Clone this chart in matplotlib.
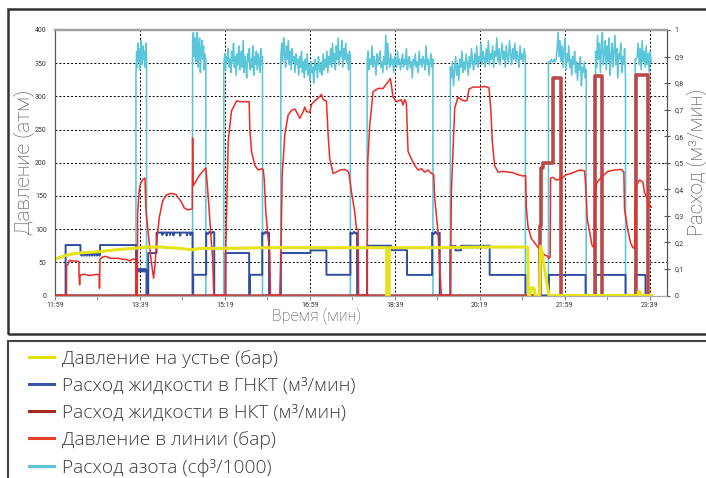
import numpy as np
import matplotlib.pyplot as plt
from matplotlib.lines import Line2D
from matplotlib.patches import Rectangle

plt.rcParams['font.family'] = ['Roboto', 'DejaVu Sans']

# time axis: minutes after 11:59
tick_minutes = [0, 100, 200, 300, 400, 500, 600, 700]
tick_labels = ["11:59", "13:39", "15:19", "16:59", "18:39", "20:19", "21:59", "23:39"]
flow_ticks = [0, 0.1, 0.2, 0.3, 0.4, 0.5, 0.6, 0.7, 0.8, 0.9, 1.0]
flow_labels = ["0", "0,1", "0,2", "0,3", "0,4", "0,5", "0,6", "0,7", "0,8", "0,9", "1"]

# wellhead pressure (bar), (minute, value)
wellhead = [(0, 55), (14, 61), (28, 64), (52, 66), (72, 69), (92, 71), (108, 73), (124, 73),
            (147, 71), (161, 69), (171, 71), (200, 71), (250, 72), (300, 72), (350, 72),
            (390.5, 72), (390.5, 0), (393.5, 0), (393.5, 72), (450, 72), (500, 73), (556.5, 73),
            (557.5, 0), (559, 0), (560, 10), (562, 12), (563, 8), (564, 11), (565.5, 0),
            (570.5, 0), (571.5, 74), (572.5, 72), (581.5, 0), (686, 0), (687, 6), (689, 5),
            (690, 0), (702, 0)]

# line pressure (bar)
line_pressure = [
    (0, 0), (13.5, 0), (13.7, 45), (15.5, 47), (17, 53), (20, 52), (26, 52), (28.2, 51),
    (28.3, 31), (29, 16), (29.6, 31), (35, 32), (40, 30), (45, 31), (50, 32), (52, 31),
    (52.4, 11), (53, 55), (56, 58), (60, 59), (65, 56), (75, 56), (80, 54.5), (85, 54),
    (88, 52), (90, 54), (93, 55), (95, 54), (95.3, 0), (96.8, 0),
    (97.3, 124), (99.2, 159), (101, 170), (103.1, 174), (105.9, 177), (107.1, 129), (109, 104),
    (111.8, 69), (114.1, 44), (116.1, 26), (117.6, 44), (119.6, 79), (122.7, 117), (126.7, 142),
    (130.7, 151), (136.5, 154), (142.4, 152), (148.3, 142), (152.2, 132), (156.1, 129),
    (160.1, 130), (161.6, 131), (162, 237), (162.6, 165), (166.7, 174), (170.6, 182),
    (175.3, 189), (177.6, 192), (179.2, 169), (181.5, 129), (183.9, 84), (185.5, 59), (187, 0),
    (200.5, 0), (201, 60), (202.4, 150), (203.9, 232), (207.8, 278), (213.7, 293), (219.6, 292),
    (228.6, 292), (229.4, 252), (231.4, 217), (235.3, 196), (239.2, 189), (243.1, 191),
    (245.1, 190), (246.3, 176), (248.2, 126), (251, 86), (252.9, 65), (253.7, 0),
    (264.7, 0), (265.9, 56), (267.5, 181), (270.6, 242), (274.5, 272), (278.4, 279),
    (282.4, 281), (286.3, 272), (288.2, 267), (292.2, 277), (294.1, 284), (296.1, 277),
    (300, 276), (302, 288), (305.9, 293), (311.8, 300), (313.7, 303), (315.7, 295),
    (319.6, 293), (321.6, 242), (323.5, 206), (327.5, 184), (331.4, 186), (335.3, 189),
    (341.2, 190), (345.9, 186), (349, 157), (352.9, 126), (354.9, 101), (356.9, 99), (357.5, 0),
    (367.5, 0), (368.2, 200), (370.6, 257), (374.5, 307), (380.4, 312), (386.3, 312),
    (392.2, 322), (394.9, 327), (398, 299), (402, 292), (407.8, 295), (409.8, 287),
    (411.8, 295), (413.7, 290), (415.7, 217), (419.6, 206), (423.5, 196), (427.5, 189),
    (431.4, 191), (435.3, 186), (439.2, 189), (443.1, 184), (445.9, 182), (447.1, 146),
    (449, 121), (451, 96), (452.9, 45), (454.9, 0),
    (465.5, 0), (466.7, 156), (470.6, 282), (474.5, 299), (476.5, 297), (478.4, 295),
    (482.4, 293), (485.1, 294), (487.5, 311), (492.2, 314), (500, 314), (505.9, 315),
    (511, 313), (513, 282), (514.9, 232), (517.6, 196), (521.6, 186), (527.5, 187),
    (533.3, 186), (539.2, 185), (545.1, 182), (551, 180), (554.1, 181), (554.9, 134),
    (556.9, 104), (560.8, 86), (566.7, 76), (572.5, 66), (576.5, 61), (580.4, 59),
    (581.6, 56), (583, 58),
    (583.5, 177), (586.3, 178), (590.2, 174), (596.1, 176), (602, 182), (607.8, 184),
    (611.8, 186), (617.6, 189), (623.5, 188), (624.3, 175), (625.5, 150), (626.7, 116),
    (629.4, 96), (632.2, 76), (634.5, 72), (635.3, 100), (636.5, 160), (638, 170),
    (643.1, 178), (651, 187), (658.8, 189), (666.7, 190), (669.8, 186), (670.6, 130),
    (674.5, 98), (677.6, 80), (680.4, 72), (682.4, 71), (683.1, 120), (684, 165),
    (688.2, 174), (692.2, 171), (694.1, 155), (697.3, 146), (700, 134), (702, 133)]

# coiled tubing fluid rate (m3/min)
gnkt_rate = [
    (0, 0), (12.5, 0), (12.5, 0.19), (30, 0.19), (30, 0.155), (31.5, 0.15), (33, 0.16),
    (34.5, 0.15), (36, 0.16), (37.5, 0.15), (39, 0.16), (40.5, 0.15), (42, 0.16), (43.5, 0.15),
    (45, 0.16), (46.5, 0.15), (48, 0.16), (49.5, 0.15), (51, 0.16), (52.5, 0.15), (53, 0.155),
    (53, 0.19), (95.5, 0.19), (95.5, 0), (96.5, 0), (96.5, 0.095), (97.5, 0.09), (98.5, 0.1),
    (99.5, 0.09), (100.5, 0.1), (101.5, 0.09), (102.5, 0.1), (103.5, 0.09), (104.5, 0.1),
    (105.5, 0.09), (106.5, 0.1), (107.8, 0.095), (107.8, 0), (109.8, 0), (109.8, 0.16),
    (119.6, 0.16), (119.6, 0.237), (126, 0.237), (126.5, 0.228), (127, 0.237), (131, 0.237),
    (131.5, 0.226), (132, 0.237), (135, 0.237), (135.5, 0.228), (136, 0.237), (139, 0.237),
    (139.5, 0.226), (140, 0.237), (147, 0.237), (147.5, 0.225), (148, 0.237), (155, 0.237),
    (155.5, 0.226), (156, 0.237), (159, 0.237), (159.5, 0.228), (160, 0.237), (162, 0.237),
    (162, 0), (162.7, 0), (162.7, 0.078), (178, 0.078), (178, 0.237), (180, 0.232),
    (182, 0.24), (184, 0.233), (186, 0.24), (187.5, 0.237), (187.5, 0),
    (200.8, 0), (200.8, 0.16), (228.6, 0.16), (228.6, 0), (229.5, 0), (229.5, 0.078),
    (244, 0.078), (244, 0.237), (246, 0.232), (248, 0.24), (250, 0.233), (252, 0.237), (252, 0),
    (265.9, 0), (265.9, 0.16), (300.8, 0.16), (300.8, 0.17), (319.6, 0.17), (319.6, 0.078),
    (347.8, 0.078), (347.8, 0.237), (350, 0.232), (352, 0.24), (354, 0.233), (355.7, 0.237),
    (355.7, 0),
    (367.5, 0), (367.5, 0.1875), (396, 0.1875), (396, 0.171), (414.5, 0.171), (414.5, 0.0775),
    (444, 0.0775), (444, 0.236), (446, 0.231), (448, 0.24), (450, 0.232), (453, 0.236), (453, 0),
    (465.5, 0), (465.5, 0.1875), (467, 0.18), (468.5, 0.1875), (470, 0.18), (471.5, 0.1875),
    (471.5, 0.17), (478, 0.17), (478, 0.1875), (481, 0.1875), (482, 0.18), (483, 0.1875),
    (486, 0.1875), (487, 0.18), (488, 0.1875), (491, 0.1875), (492, 0.18), (493, 0.1875),
    (496, 0.1875), (497, 0.18), (498, 0.1875), (501, 0.1875), (502, 0.18), (503, 0.1875),
    (506, 0.1875), (507, 0.18), (508, 0.1875), (511.8, 0.1875), (511.8, 0.0775),
    (554, 0.0775), (554, 0),
    (581.6, 0), (581.6, 0.0775), (624.7, 0.0775), (624.7, 0), (636.5, 0), (636.5, 0.0775),
    (671.8, 0.0775), (671.8, 0), (683.1, 0), (683.1, 0.0775), (695.3, 0.0775), (695.3, 0),
    (702, 0)]

# tubing fluid rate (m3/min)
nkt_rate = [(0, 0), (570.5, 0), (570.5, 0.26), (572.5, 0.26), (572.5, 0.48), (575, 0.48),
            (575, 0.5), (585.8, 0.5), (585.8, 0.82), (595.8, 0.82), (595.8, 0),
            (635.3, 0), (635.3, 0.825), (643.6, 0.825), (643.6, 0),
            (684, 0), (684, 0.83), (698, 0.83), (698, 0), (702, 0)]

# nitrogen rate: pumping periods and readings inside them (hundredths)
n2_start = [95.3, 162.0, 198.8, 265.9, 367.5, 465.5, 581.0, 636.5, 683.1]
n2_end = [107.8, 177.6, 244.3, 347.8, 445.0, 553.8, 625.5, 671.8, 702.0]
n2_readings = [
    [83, 92, 86, 95, 88, 93, 85, 96, 90, 87, 94, 89, 92, 86, 95, 90],
    [96, 99, 90, 97, 88, 95, 99, 86, 93, 97, 84, 92, 96, 89, 94, 85, 91, 88],
    [87, 91, 85, 90, 88, 93, 86, 89, 84, 92, 88, 95, 86, 90, 83, 91, 87, 94, 85, 89, 92, 86,
     96, 84, 90, 87, 82, 91, 88, 93, 85, 89, 86, 94, 83, 90, 87, 92, 85, 91, 88, 84, 93, 87, 90],
    [90, 95, 88, 97, 91, 86, 94, 89, 96, 87, 92, 85, 93, 88, 90, 84, 91, 87, 89, 83, 90, 86,
     92, 84, 88, 82, 89, 85, 91, 83, 87, 81, 88, 84, 86, 80, 89, 85, 87, 82, 90, 86, 84, 88,
     83, 91, 85, 89, 86, 92, 84, 90, 87, 93, 86, 95, 88, 91, 85, 94, 89, 97, 87, 92, 90, 96,
     86, 93, 89, 95, 88, 91, 85, 92, 90],
    [88, 92, 85, 89, 87, 94, 86, 90, 88, 83, 91, 87, 89, 92, 86, 88, 84, 90, 87, 98, 85, 95,
     88, 86, 91, 87, 89, 84, 90, 88, 86, 92, 87, 89, 85, 88, 91, 86, 89, 87, 93, 85, 88, 90,
     86, 88, 82, 89, 87, 91, 86, 88, 84, 92, 87, 89, 86, 90, 88, 85, 94, 87, 89, 83, 88, 91,
     86, 89],
    [86, 82, 88, 79, 85, 90, 83, 87, 81, 89, 86, 92, 84, 88, 85, 91, 87, 83, 90, 86, 93, 88,
     85, 91, 87, 94, 86, 90, 88, 95, 87, 92, 89, 86, 93, 88, 96, 87, 91, 89, 94, 86, 92, 90,
     97, 88, 93, 87, 91, 95, 89, 92, 86, 94, 90, 88, 96, 91, 87, 93, 89, 95, 88, 92, 90, 86,
     94, 89, 91, 88, 93, 90],
    [88, 88, 88, 89, 88, 88, 89, 88, 89, 93, 99, 90, 96, 88, 94, 86, 92, 97, 85, 91, 88, 94,
     86, 89, 83, 90, 87, 92, 84, 88, 81, 87, 85, 90, 79, 86, 84, 88, 82, 85],
    [92, 86, 98, 89, 95, 84, 93, 99, 87, 91, 96, 85, 94, 88, 97, 83, 90, 95, 86, 92, 98, 87,
     93, 82, 91, 89, 95, 84, 90, 87, 93, 80],
    [89, 89, 90, 95, 87, 93, 85, 96, 88, 92, 86, 94, 87, 91, 84, 92, 88],
]

legend_labels = ["Давление на устье (бар)", "Расход жидкости в ГНКТ (м³/мин)",
                 "Расход жидкости в НКТ (м³/мин)", "Давление в линии (бар)",
                 "Расход азота (сф³/1000)"]

c_yellow, c_blue, c_dred, c_red, c_cyan = "#e6e21c", "#2f4ea2", "#b94a48", "#ee2a24", "#5bc6da"
text_grey = "#444444"

n2_t, n2_v = [0.0], [0.0]
for i, (s, e, vals) in enumerate(zip(n2_start, n2_end, n2_readings)):
    n2_t += [s] + list(np.linspace(s, e, len(vals)))
    n2_v += [0.0] + [v / 100 for v in vals]
    if i < len(n2_start) - 1:
        n2_t.append(e)
        n2_v.append(0.0)

fig = plt.figure(figsize=(7.06, 4.78), dpi=100)
ax = fig.add_axes([55 / 706, 1 - 295.5 / 478, 611.5 / 706, 265.5 / 478])
ax2 = ax.twinx()
ax.set_xlim(0, 720)
ax.set_ylim(0, 400)
ax2.set_ylim(0, 1)

flow_tr = ax2.transData
ax.plot(n2_t, n2_v, color=c_cyan, lw=1.15, transform=flow_tr, zorder=2)
t, v = zip(*gnkt_rate)
ax.plot(t, v, color=c_blue, lw=1.4, transform=flow_tr, zorder=3)
t, v = zip(*nkt_rate)
ax.plot(t, v, color=c_dred, lw=2.6, transform=flow_tr, zorder=4)
t, v = zip(*line_pressure)
ax.plot(t, v, color=c_red, lw=1.1, zorder=5)
t, v = zip(*wellhead)
ax.plot(t, v, color=c_yellow, lw=2.2, zorder=6)

ax.set_axisbelow(True)
ax.set_yticks(range(0, 401, 50))
ax.set_xticks(tick_minutes)
ax.set_xticklabels(tick_labels)
ax.set_xticks(range(50, 720, 100), minor=True)
ax.grid(True, which="major", color="black", linestyle=(0, (2, 2)), lw=0.7)
ax.tick_params(axis="y", length=0, pad=6, labelsize=5, labelcolor="#333333")
ax.tick_params(axis="x", which="both", direction="out", length=3, color="#888888",
               pad=2, labelsize=5, labelcolor="#333333")
ax2.set_yticks(flow_ticks)
ax2.set_yticklabels(flow_labels)
ax2.tick_params(axis="y", direction="inout", length=5, color="#555555", pad=3,
                labelsize=5, labelcolor="#333333")

for a in (ax, ax2):
    a.spines["top"].set_color("#a0a0a0")
    a.spines["top"].set_linewidth(1.6)
    a.spines["bottom"].set_color("#aaaaaa")
    a.spines["left"].set_color("#555555")
    a.spines["left"].set_linewidth(0.8)
    a.spines["right"].set_color("#555555")
    a.spines["right"].set_linewidth(0.8)

ax.set_ylabel("Давление (атм)", fontsize=15, color=text_grey, fontweight="light")
ax.yaxis.set_label_coords(-0.052, 0.5)
ax2.set_ylabel("Расход (м³/мин)", fontsize=14.5, color=text_grey, fontweight="light")
ax2.yaxis.set_label_coords(1.049, 0.5)
ax.set_xlabel("Время (мин)", fontsize=11.5, color=text_grey, fontweight="light")
ax.xaxis.set_label_coords(0.427, -0.08)
ax.xaxis.label.set_va("center")
ax.yaxis.label.set_va("center")
ax2.yaxis.label.set_va("center")

fig.add_artist(Rectangle((8 / 706, 1 - 334 / 478), 720 / 706, 325 / 478,
                         transform=fig.transFigure, fill=False, lw=1.8, ec="#333333"))
fig.add_artist(Rectangle((8 / 706, -0.1), 720 / 706, 1 - 341 / 478 + 0.1,
                         transform=fig.transFigure, fill=False, lw=1.5, ec="#444444"))

handles = [Line2D([], [], color=c, lw=2.2) for c in
           ["#e8e000", "#3a56a8", "#a52a1f", "#e8402a", "#5bc6da"]]
leg = fig.legend(handles, legend_labels, loc="upper left",
                 bbox_to_anchor=(29 / 706, 1 - 350 / 478), frameon=False,
                 prop={"family": ["Open Sans", "DejaVu Sans"], "size": 13.8, "weight": "light"},
                 handlelength=1.3, handletextpad=0.4,
                 labelspacing=0.47, borderpad=0, borderaxespad=0)
for txt in leg.get_texts():
    txt.set_color("#3c3c3c")

fig.savefig("out.png", dpi=100)
